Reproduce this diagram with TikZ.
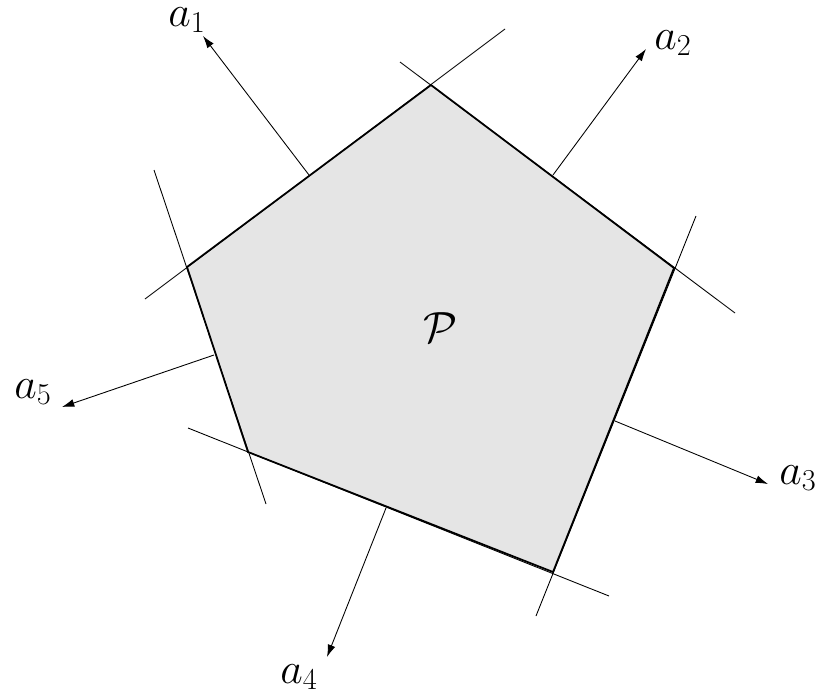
\documentclass[tikz,border=0pt]{standalone}
\usepackage{amsmath,amssymb}
\usetikzlibrary{arrows.meta}

\tikzset{
  supp/.style={line width=0.5pt},
  normal/.style={line width=0.5pt,-{Latex[length=7pt,width=4.5pt]}},
  facet/.style={line width=1pt},
  lbl/.style={inner sep=0pt}
}

\begin{document}
\begin{tikzpicture}[x=0.02cm,y=-0.02cm]
\fontsize{23}{27}\selectfont
	\useasboundingbox (0,0) rectangle (828,697);
	% vertices of the polytope
	\coordinate (V1) at (431, 85);
	\coordinate (V2) at (674,268);
	\coordinate (V3) at (553,572);
	\coordinate (V4) at (248,452);
	\coordinate (V5) at (187,267);
	\fill[black!10] (V1) -- (V2) -- (V3) -- (V4) -- (V5) -- cycle;
	% supporting lines
	\coordinate (L1a) at (145,299); \coordinate (L1b) at (505, 29);
	\coordinate (L2a) at (400, 62); \coordinate (L2b) at (735,313);
	\coordinate (L3a) at (696,216); \coordinate (L3b) at (536,616);
	\coordinate (L4a) at (609,596); \coordinate (L4b) at (188,428);
	\coordinate (L5a) at (266,504); \coordinate (L5b) at (154,170);
	\draw[supp] (L1a) -- (L1b);
	\draw[supp] (L2a) -- (L2b);
	\draw[supp] (L3a) -- (L3b);
	\draw[supp] (L4a) -- (L4b);
	\draw[supp] (L5a) -- (L5b);
	\draw[facet] (V1) -- (V2) -- (V3) -- (V4) -- (V5) -- cycle;
	% normals
	\coordinate (F1) at (309,175); \coordinate (T1) at (203, 36);
	\coordinate (F2) at (553,175); \coordinate (T2) at (646, 49);
	\coordinate (F3) at (615,421); \coordinate (T3) at (768,484);
	\coordinate (F4) at (386,508); \coordinate (T4) at (327,657);
	\coordinate (F5) at (214,355); \coordinate (T5) at ( 62,407);
	\draw[normal] (F1) -- (T1);
	\draw[normal] (F2) -- (T2);
	\draw[normal] (F3) -- (T3);
	\draw[normal] (F4) -- (T4);
	\draw[normal] (F5) -- (T5);
	\draw (187, 20) node[lbl] (a1) {$a_1$};
	\draw (673, 43) node[lbl] (a2) {$a_2$};
	\draw (798,478) node[lbl] (a3) {$a_3$};
	\draw (299,677) node[lbl] (a4) {$a_4$};
	\draw ( 33,392) node[lbl] (a5) {$a_5$};
	\draw (440,328) node[lbl] (P) {$\mathcal{P}$};
\end{tikzpicture}
\end{document}
